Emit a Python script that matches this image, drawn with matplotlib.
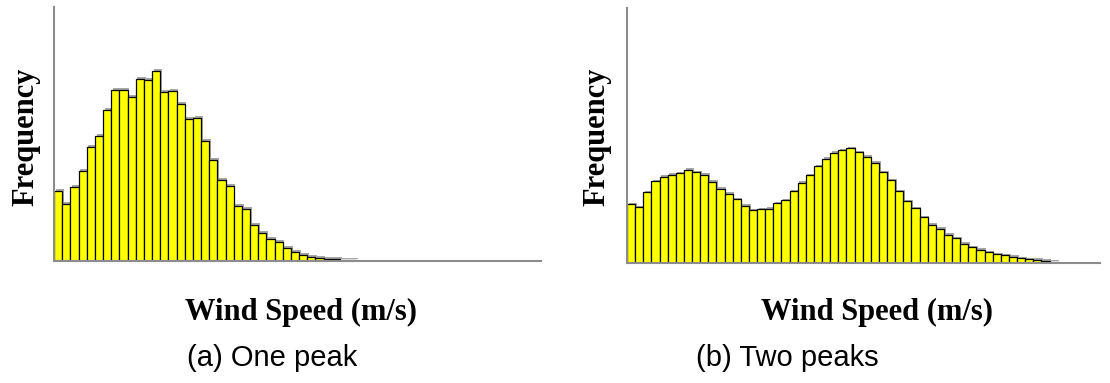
import numpy as np
import matplotlib.pyplot as plt
import matplotlib.patheffects as pe

# bar heights (relative frequency per bin)
one_peak = [70, 57, 74, 90, 114, 125, 151, 171, 171, 164, 182, 181, 190, 169, 170,
            157, 142, 143, 120, 101, 81, 75, 55, 52, 36, 28, 22, 19, 13, 9,
            6, 4, 3, 2, 2, 1.5, 1, 0.5, 0.2, 0.3, 0.3] + [0] * 19
two_peaks = [58.7, 55.7, 70.7, 81.7, 86.3, 88.3, 89.7, 93, 90.7, 88.3, 81, 74.3, 69.3,
             63.7, 57.3, 52.7, 53.7, 54.3, 59.7, 62.7, 71.7, 80, 87.7, 96.7, 104.3,
             110, 112.7, 114.7, 110.7, 106.3, 100.3, 90.7, 82.7, 71.7, 61.7, 54.7,
             45.7, 38.3, 34, 28.3, 24.7, 19.3, 15.7, 13.3, 10.7, 8.7, 7.7, 6.3, 4.7,
             3.7, 3, 2.3, 1.3, 0.5, 0.4, 0.2, 0.3, 0.1]

x_label = 'Wind Speed (m/s)'
y_label = 'Frequency'
captions = ['(a) One peak', '(b) Two peaks']

W, H = 1110, 383
fig = plt.figure(figsize=(W / 100, H / 100), dpi=100)


def px_axes(x0, y0, x1, y1):
    # pixel box (top-left origin) -> figure axes
    return fig.add_axes([x0 / W, 1 - y1 / H, (x1 - x0) / W, (y1 - y0) / H])


def draw_hist(ax, vals, xmax, ymax):
    n = len(vals)
    bars = ax.bar(np.arange(n), vals, width=1, align='edge', color='#ffff00',
                  edgecolor='black', linewidth=0.9, zorder=3)
    for b in bars:
        b.set_path_effects([pe.SimplePatchShadow(offset=(1.2, 1.2), shadow_rgbFace='#808080',
                                                 alpha=0.7), pe.Normal()])
    ax.set_xlim(0, xmax)
    ax.set_ylim(0, ymax)
    ax.set_xticks([])
    ax.set_yticks([])
    for s in ['top', 'right']:
        ax.spines[s].set_visible(False)
    for s in ['left', 'bottom']:
        ax.spines[s].set_color('#8c8c8c')
        ax.spines[s].set_linewidth(1.5)
        ax.spines[s].set_zorder(4)


ax1 = px_axes(54, 7, 541, 261)
draw_hist(ax1, one_peak, 59.6, 254)
ax2 = px_axes(627, 8, 1100, 263)
draw_hist(ax2, two_peaks, 58.2, 255)

serif = dict(family='Liberation Serif', weight='bold', fontsize=22)
fig.text(26 / W, 1 - 137 / H, y_label, rotation=90, ha='center', va='center', **serif)
fig.text(597 / W, 1 - 137 / H, y_label, rotation=90, ha='center', va='center', **serif)
fig.text(301 / W, 1 - 312 / H, x_label, ha='center', va='center', **serif)
fig.text(877 / W, 1 - 312 / H, x_label, ha='center', va='center', **serif)

sans = dict(family='Liberation Sans', fontsize=21)
fig.text(272 / W, 1 - 358 / H, captions[0], ha='center', va='center', **sans)
fig.text(787 / W, 1 - 358 / H, captions[1], ha='center', va='center', **sans)

fig.savefig('out.png', dpi=100)
